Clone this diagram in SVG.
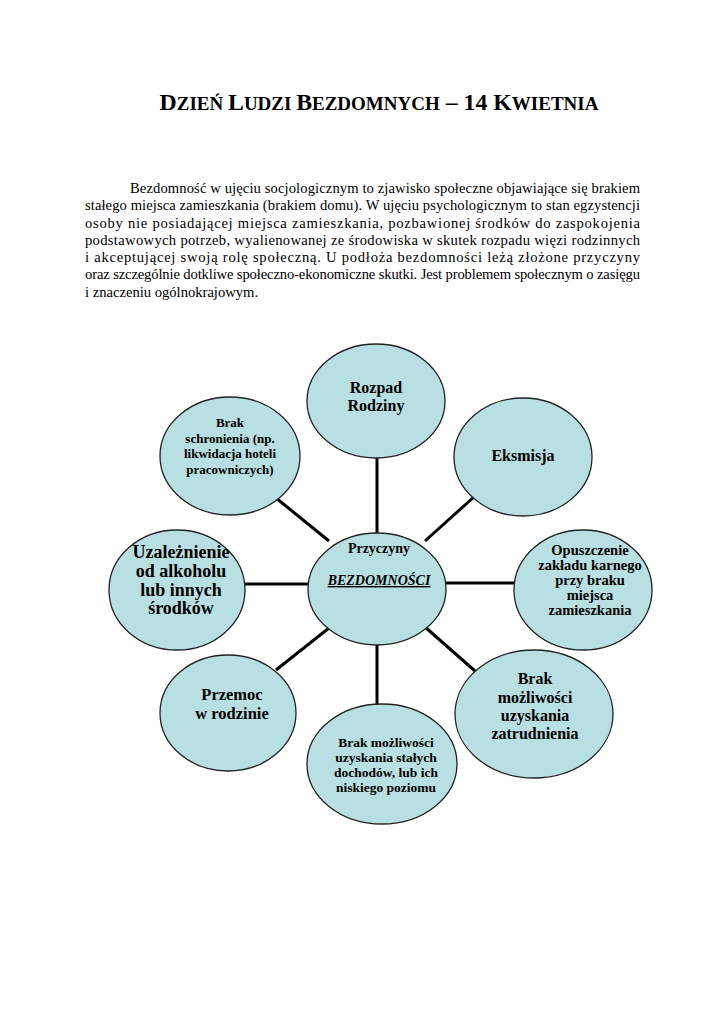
<svg xmlns="http://www.w3.org/2000/svg" width="724" height="1024" viewBox="0 0 724 1024">
<style>
.t{font-family:"Liberation Serif","Times New Roman",serif;fill:#000}
.p{font-size:14.6px}
.b{font-weight:bold;text-anchor:middle}
.n{fill:#b8dfe2;stroke:#222;stroke-width:1.3}
.c{stroke:#000;stroke-width:3;fill:none}
</style>
<rect width="724" height="1024" fill="#fff"/>
<g id="title">
<text class="t" x="379" y="110" font-weight="bold" text-anchor="middle" font-size="23.8"><tspan>D</tspan><tspan font-size="19">ZIEŃ </tspan><tspan>L</tspan><tspan font-size="19">UDZI </tspan><tspan>B</tspan><tspan font-size="19">EZDOMNYCH</tspan><tspan> – 14 K</tspan><tspan font-size="19">WIETNIA</tspan></text>
</g>
<g id="paragraph" class="t p">
<text x="130" y="193" textLength="510" lengthAdjust="spacing">Bezdomność w ujęciu socjologicznym to zjawisko społeczne objawiające się brakiem</text>
<text x="85" y="210" textLength="555" lengthAdjust="spacing">stałego miejsca zamieszkania (brakiem domu). W ujęciu psychologicznym to stan egzystencji</text>
<text x="85" y="228" textLength="555" lengthAdjust="spacing">osoby nie posiadającej miejsca zamieszkania, pozbawionej środków do zaspokojenia</text>
<text x="85" y="245" textLength="555" lengthAdjust="spacing">podstawowych potrzeb, wyalienowanej ze środowiska w skutek rozpadu więzi rodzinnych</text>
<text x="85" y="262" textLength="555" lengthAdjust="spacing">i akceptującej swoją rolę społeczną.  U podłoża bezdomności leżą złożone przyczyny</text>
<text x="85" y="279" textLength="555" lengthAdjust="spacing">oraz szczególnie dotkliwe społeczno-ekonomiczne skutki. Jest problemem społecznym o zasięgu</text>
<text x="85" y="297">i znaczeniu ogólnokrajowym.</text>
</g>
<g id="connectors">
<line class="c" x1="377" y1="456" x2="377" y2="534"/>
<line class="c" x1="377" y1="644" x2="377" y2="705"/>
<line class="c" x1="242" y1="584" x2="309" y2="584"/>
<line class="c" x1="445" y1="583" x2="514" y2="583"/>
<line class="c" x1="276" y1="498" x2="329" y2="541"/>
<line class="c" x1="475" y1="496" x2="425" y2="541"/>
<line class="c" x1="276" y1="670" x2="329" y2="628"/>
<line class="c" x1="425" y1="627" x2="475" y2="671"/>
</g>
<g id="center">
<ellipse class="n" cx="377" cy="589" rx="69" ry="56"/>
<text class="t b" x="379" y="553" font-size="14">Przyczyny</text>
<text class="t b" x="379" y="585" font-size="14" font-style="italic" text-decoration="underline">BEZDOMNOŚCI</text>
</g>
<g id="rozpad">
<ellipse class="n" cx="376" cy="401" rx="69" ry="57"/>
<text class="t b" x="376" y="393" font-size="16">Rozpad</text>
<text class="t b" x="376" y="411" font-size="16">Rodziny</text>
</g>
<g id="eksmisja">
<ellipse class="n" cx="523" cy="457" rx="69" ry="59"/>
<text class="t b" x="523" y="461" font-size="16">Eksmisja</text>
</g>
<g id="schronienie">
<ellipse class="n" cx="230" cy="456" rx="70" ry="59"/>
<text class="t b" x="230" y="427" font-size="13">Brak</text>
<text class="t b" x="230" y="443" font-size="13">schronienia (np.</text>
<text class="t b" x="230" y="458" font-size="13">likwidacja hoteli</text>
<text class="t b" x="230" y="474" font-size="13">pracowniczych)</text>
</g>
<g id="uzaleznienie">
<ellipse class="n" cx="177" cy="590" rx="68" ry="60"/>
<text class="t b" x="181" y="558" font-size="18">Uzależnienie</text>
<text class="t b" x="181" y="577" font-size="18">od alkoholu</text>
<text class="t b" x="181" y="596" font-size="18">lub innych</text>
<text class="t b" x="181" y="614" font-size="18">środków</text>
</g>
<g id="opuszczenie">
<ellipse class="n" cx="583" cy="590" rx="69" ry="60"/>
<text class="t b" x="590" y="555" font-size="14.5">Opuszczenie</text>
<text class="t b" x="590" y="570" font-size="14.5">zakładu karnego</text>
<text class="t b" x="590" y="585" font-size="14.5">przy braku</text>
<text class="t b" x="590" y="600" font-size="14.5">miejsca</text>
<text class="t b" x="590" y="615" font-size="14.5">zamieszkania</text>
</g>
<g id="przemoc">
<ellipse class="n" cx="228" cy="713" rx="68" ry="58"/>
<text class="t b" x="232" y="700" font-size="16.5">Przemoc</text>
<text class="t b" x="232" y="719" font-size="16.5">w rodzinie</text>
</g>
<g id="zatrudnienie">
<ellipse class="n" cx="534" cy="714" rx="79" ry="64"/>
<text class="t b" x="535" y="684" font-size="16">Brak</text>
<text class="t b" x="535" y="703" font-size="16">możliwości</text>
<text class="t b" x="535" y="721" font-size="16">uzyskania</text>
<text class="t b" x="535" y="739" font-size="16">zatrudnienia</text>
</g>
<g id="dochody">
<ellipse class="n" cx="382" cy="764" rx="75" ry="60"/>
<text class="t b" x="386" y="747" font-size="13.5">Brak możliwości</text>
<text class="t b" x="386" y="762" font-size="13.5">uzyskania stałych</text>
<text class="t b" x="386" y="777" font-size="13.5">dochodów, lub ich</text>
<text class="t b" x="386" y="792" font-size="13.5">niskiego poziomu</text>
</g>
</svg>
